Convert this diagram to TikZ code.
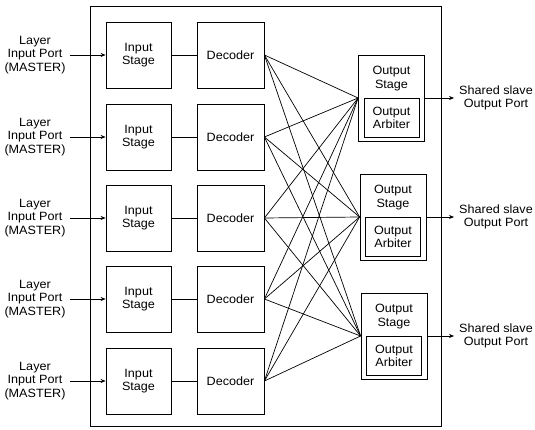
\documentclass[tikz,border=0pt]{standalone}
\usepackage{fontspec}
\setmainfont{Liberation Sans}[FakeStretch=1.05]
\usetikzlibrary{arrows.meta,calc}
\begin{document}
\begin{tikzpicture}[x=1pt,y=-1pt,
  txt/.style={font=\fontsize{12}{13.5}\selectfont,align=center,inner sep=2pt},
  blk/.style={draw,line width=0.8pt,inner sep=0pt},
  instage/.style={blk,minimum width=65pt,minimum height=66pt,txt},
  decbox/.style={blk,minimum width=67pt,minimum height=66pt,txt},
  outbox/.style={blk,minimum width=66pt,minimum height=86pt},
  arbbox/.style={blk,minimum width=55pt,minimum height=39pt,txt},
  conn/.style={line width=0.7pt},
  arr/.style={line width=0.7pt,-{Stealth[length=5pt,width=4pt]}}]
\useasboundingbox (0,0) rectangle (535,430);
% outer frame
\node[blk,minimum width=351pt,minimum height=420pt] (frame) at (265.5,216) {};
% input rows
\foreach \i/\y in {1/55,2/137,3/218,4/299,5/381}{
  \node[instage] (in\i) at (138.5,\y) {Input\\Stage};
  \node[decbox] (dec\i) at (230.5,\y) {Decoder};
  \node[txt] (lay\i) at (35,\y) {Layer\\Input Port\\(MASTER)};
  \draw[arr,shorten <=2pt] (lay\i.east) -- (in\i.west);
  \draw[conn] (in\i.east) -- (dec\i.west);
}
% output stages
\foreach \j/\x/\y in {1/391.5/98,2/393/217,3/394/336}{
  \node[outbox] (out\j) at (\x,\y) {};
  \node[txt] (ost\j) at ($(out\j.north)+(0,24)$) {Output\\Stage};
  \node[arbbox] (arb\j) at ($(out\j.south)+(0,-23.5)$) {Output\\Arbiter};
  \coordinate (cv\j) at (out\j.west |- arb\j.north);
  \coordinate (ox\j) at (out\j.east |- arb\j.north);
  \node[txt,inner sep=1pt] (sh\j) at (ox\j -| 496,0) {Shared slave\\Output Port};
  \draw[arr,shorten >=4pt] (ox\j) -- (sh\j.west |- ox\j);
}
% crossbar
\foreach \i in {1,...,5}{
  \foreach \j in {1,2,3}{
    \draw[conn] (dec\i.east) -- (cv\j);
  }
}
\end{tikzpicture}
\end{document}
